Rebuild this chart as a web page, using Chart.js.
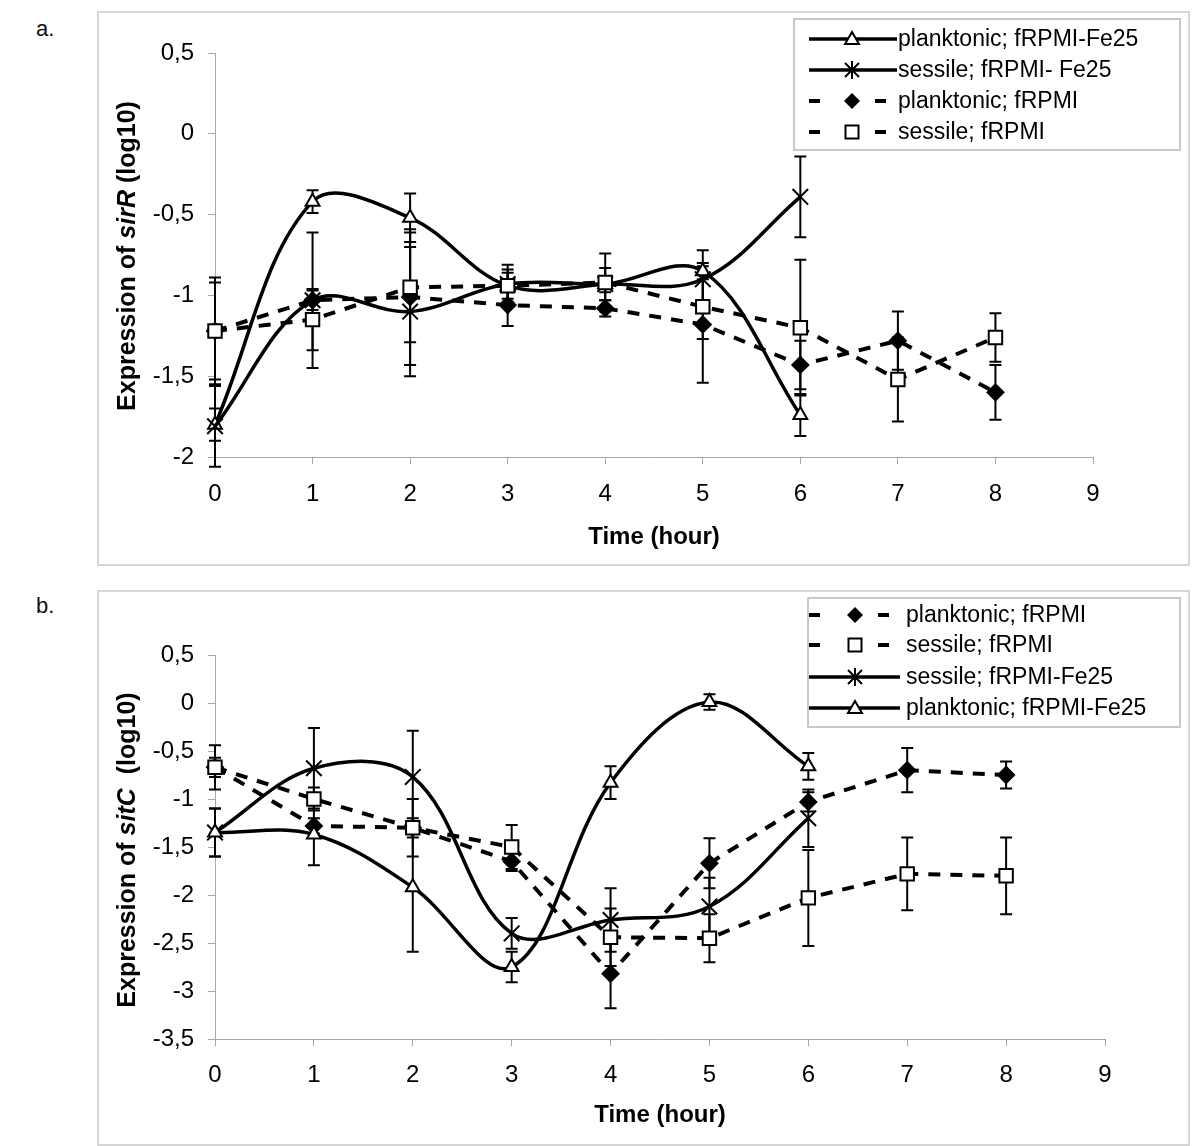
<!DOCTYPE html>
<html>
<head>
<meta charset="utf-8">
<script src="https://cdn.jsdelivr.net/npm/chart.js@4.4.0/dist/chart.umd.min.js"></script>
<style>
  html, body { margin: 0; padding: 0; background: #fff; }
  body { width: 1200px; height: 1146px; position: relative; overflow: hidden; font-family: "Liberation Sans", Arial, sans-serif; }
  .frame { position: absolute; border: 2px solid #d6d6d6; box-sizing: border-box; }
  .panel { position: absolute; }
  .tag { position: absolute; font-size: 22px; color: #111; }
</style>
</head>
<body>
<div class="tag" style="left:36px;top:16px">a.</div>
<div class="frame" style="left:97px;top:11px;width:1093px;height:555px"></div>
<div class="panel" style="left:98px;top:12px;width:1091px;height:553px"><canvas id="chartA"></canvas></div>

<div class="tag" style="left:36px;top:593px">b.</div>
<div class="frame" style="left:97px;top:590px;width:1093px;height:556px"></div>
<div class="panel" style="left:98px;top:591px;width:1091px;height:554px"><canvas id="chartB"></canvas></div>

<script>
// time points (hours)
const hours = [0, 1, 2, 3, 4, 5, 6, 7, 8];

// panel a: sirR expression (log10) and error bars
const sirR_plankFe = [-1.80, -0.42, -0.52, -0.94, -0.93, -0.85, -1.74];
const sirR_plankFe_err = [0.10, 0.07, 0.15, 0.08, 0.05, 0.05, 0.13];
const sirR_sessFe = [-1.81, -1.03, -1.10, -0.93, -0.93, -0.90, -0.39];
const sirR_sessFe_err = [0.25, 0.42, 0.40, 0.12, 0.10, 0.18, 0.25];
const sirR_plank = [-1.22, -1.03, -1.01, -1.06, -1.08, -1.18, -1.43, -1.28, -1.60];
const sirR_plank_err = [0.30, 0.06, 0.42, 0.13, 0.05, 0.36, 0.15, 0.18, 0.17];
const sirR_sess = [-1.22, -1.15, -0.95, -0.94, -0.92, -1.07, -1.20, -1.52, -1.26];
const sirR_sess_err = [0.33, 0.19, 0.34, 0.10, 0.18, 0.20, 0.42, 0.26, 0.15];

// panel b: sitC expression (log10) and error bars
const sitC_plank = [-0.67, -1.28, -1.30, -1.65, -2.82, -1.67, -1.03, -0.70, -0.75];
const sitC_plank_err = [0.10, 0.08, 0.10, 0.10, 0.36, 0.26, 0.10, 0.23, 0.14];
const sitC_sess = [-0.67, -1.00, -1.30, -1.50, -2.44, -2.45, -2.03, -1.78, -1.80];
const sitC_sess_err = [0.23, 0.12, 0.30, 0.23, 0.30, 0.25, 0.50, 0.38, 0.40];
const sitC_sessFe = [-1.35, -0.68, -0.77, -2.40, -2.26, -2.12, -1.20];
const sitC_sessFe_err = [0.25, 0.42, 0.48, 0.16, 0.33, 0.30, 0.30];
const sitC_plankFe = [-1.35, -1.37, -1.92, -2.75, -0.83, 0.01, -0.66];
const sitC_plankFe_err = [0.25, 0.32, 0.67, 0.16, 0.17, 0.08, 0.14];

const FONT = '"Liberation Sans", Arial, sans-serif';

function series(label, values, errs, kind, idx) {
  const solid = kind === 'triangle' || kind === 'cross';
  const styles = {
    triangle: { pointStyle: 'triangle', radius: 8, fill: '#fff' },
    cross: { pointStyle: 'crossRot', radius: 11, fill: '#000' },
    diamond: { pointStyle: 'rectRot', radius: 8, fill: '#000' },
    square: { pointStyle: 'rect', radius: 9.5, fill: '#fff' }
  }[kind];
  return {
    label: label,
    kind: kind,
    order: -idx, // later series on top, like the original
    data: values.map((v, i) => ({ x: hours[i], y: v })),
    errors: errs,
    borderColor: '#000',
    borderWidth: solid ? 3.5 : 4,
    borderDash: solid ? [] : [12, 10],
    tension: solid ? 0.36 : 0,
    fill: false,
    clip: false,
    pointStyle: styles.pointStyle,
    pointRadius: styles.radius,
    pointBackgroundColor: styles.fill,
    pointBorderColor: '#000',
    pointBorderWidth: 2
  };
}

// error bars drawn under the lines
const errorBars = {
  id: 'errorBars',
  beforeDatasetsDraw(chart) {
    const { ctx, scales: { x, y } } = chart;
    ctx.save();
    ctx.strokeStyle = '#000';
    ctx.lineWidth = 2;
    chart.data.datasets.forEach(ds => {
      ds.data.forEach((pt, i) => {
        const e = ds.errors[i];
        const px = x.getPixelForValue(pt.x);
        const top = y.getPixelForValue(pt.y + e);
        const bot = y.getPixelForValue(pt.y - e);
        ctx.beginPath();
        ctx.moveTo(px, top); ctx.lineTo(px, bot);
        ctx.moveTo(px - 6, top); ctx.lineTo(px + 6, top);
        ctx.moveTo(px - 6, bot); ctx.lineTo(px + 6, bot);
        ctx.stroke();
      });
    });
    ctx.restore();
  }
};

function legendMarker(ctx, kind, x, y) {
  ctx.save();
  ctx.lineWidth = 2;
  ctx.strokeStyle = '#000';
  ctx.beginPath();
  if (kind === 'triangle') {
    ctx.moveTo(x, y - 7); ctx.lineTo(x + 7, y + 5); ctx.lineTo(x - 7, y + 5); ctx.closePath();
    ctx.fillStyle = '#fff'; ctx.fill(); ctx.stroke();
  } else if (kind === 'cross') {
    ctx.moveTo(x - 7, y - 7); ctx.lineTo(x + 7, y + 7);
    ctx.moveTo(x + 7, y - 7); ctx.lineTo(x - 7, y + 7);
    ctx.moveTo(x, y - 9); ctx.lineTo(x, y + 9);
    ctx.stroke();
  } else if (kind === 'diamond') {
    ctx.moveTo(x, y - 8); ctx.lineTo(x + 8, y); ctx.lineTo(x, y + 8); ctx.lineTo(x - 8, y); ctx.closePath();
    ctx.fillStyle = '#000'; ctx.fill();
  } else {
    ctx.rect(x - 6.5, y - 6.5, 13, 13);
    ctx.fillStyle = '#fff'; ctx.fill(); ctx.stroke();
  }
  ctx.restore();
}

// titles and legend box
const decorations = {
  id: 'decorations',
  afterDraw(chart, args, opts) {
    const { ctx, chartArea } = chart;
    ctx.save();
    ctx.fillStyle = '#000';

    // y title with mixed styles, rotated
    ctx.translate(opts.yTitleX, opts.yTitleY);
    ctx.rotate(-Math.PI / 2);
    ctx.textBaseline = 'middle';
    let total = 0;
    opts.yTitle.forEach(s => { ctx.font = s[1] + ' 25px ' + FONT; total += ctx.measureText(s[0]).width; });
    let cx = -total / 2;
    opts.yTitle.forEach(s => {
      ctx.font = s[1] + ' 25px ' + FONT;
      ctx.textAlign = 'left';
      ctx.fillText(s[0], cx, 0);
      cx += ctx.measureText(s[0]).width;
    });
    ctx.setTransform(1, 0, 0, 1, 0, 0);

    // x title
    ctx.font = 'bold 24px ' + FONT;
    ctx.textAlign = 'center';
    ctx.textBaseline = 'middle';
    ctx.fillText('Time (hour)', (chartArea.left + chartArea.right) / 2, chartArea.bottom + opts.xTitleGap);

    // legend
    const L = opts.legend;
    ctx.fillStyle = '#fff';
    ctx.fillRect(L.x, L.y, L.w, L.h);
    ctx.strokeStyle = '#c8c8c8';
    ctx.lineWidth = 2;
    ctx.strokeRect(L.x, L.y, L.w, L.h);
    chart.data.datasets.forEach((ds, i) => {
      const ry = L.rowY[i];
      const solid = ds.kind === 'triangle' || ds.kind === 'cross';
      ctx.strokeStyle = '#000';
      ctx.beginPath();
      if (solid) {
        ctx.lineWidth = 3.5;
        ctx.moveTo(L.sampleX, ry); ctx.lineTo(L.sampleX + L.sampleW, ry);
      } else {
        ctx.lineWidth = 4;
        ctx.moveTo(L.sampleX, ry); ctx.lineTo(L.sampleX + 11, ry);
        ctx.moveTo(L.sampleX + L.sampleW - 22, ry); ctx.lineTo(L.sampleX + L.sampleW - 11, ry);
      }
      ctx.stroke();
      legendMarker(ctx, ds.kind, L.markerX, ry);
      ctx.fillStyle = '#000';
      ctx.font = '23px ' + FONT;
      ctx.textAlign = 'left';
      ctx.textBaseline = 'middle';
      ctx.fillText(ds.label, L.textX, ry + 1);
    });
    ctx.restore();
  }
};

function buildOptions(cfg) {
  return {
    responsive: true,
    maintainAspectRatio: false,
    animation: false,
    layout: { padding: { left: 0, top: cfg.top, right: cfg.right, bottom: 0 } },
    plugins: {
      legend: { display: false },
      tooltip: { enabled: false },
      decorations: cfg.deco
    },
    scales: {
      x: {
        type: 'linear',
        min: 0, max: 9,
        afterFit: s => { s.height = cfg.xHeight; },
        ticks: { stepSize: 1, color: '#000', font: { family: FONT, size: 24 }, padding: cfg.xPad },
        grid: { drawOnChartArea: false, drawTicks: true, tickLength: 7, color: '#a8a8a8' },
        border: { color: '#a8a8a8', width: 1 }
      },
      y: {
        min: cfg.yMin, max: 0.5,
        afterFit: s => { s.width = 117; },
        ticks: {
          stepSize: 0.5, color: '#000', font: { family: FONT, size: 24 }, padding: 14,
          callback: v => String(v).replace('.', ',')
        },
        grid: { drawOnChartArea: false, drawTicks: true, tickLength: 7, color: '#a8a8a8' },
        border: { color: '#a8a8a8', width: 1 }
      }
    }
  };
}

new Chart(document.getElementById('chartA'), {
  type: 'line',
  data: {
    datasets: [
      series('planktonic; fRPMI-Fe25', sirR_plankFe, sirR_plankFe_err, 'triangle', 0),
      series('sessile; fRPMI- Fe25', sirR_sessFe, sirR_sessFe_err, 'cross', 1),
      series('planktonic; fRPMI', sirR_plank, sirR_plank_err, 'diamond', 2),
      series('sessile; fRPMI', sirR_sess, sirR_sess_err, 'square', 3)
    ]
  },
  options: buildOptions({
    top: 41, right: 96, xHeight: 108, xPad: 16, yMin: -2,
    deco: {
      yTitle: [['Expression of ', 'bold'], ['sirR', 'italic bold'], [' (log10)', 'bold']],
      yTitleX: 30, yTitleY: 244, xTitleGap: 80,
      legend: { x: 696, y: 7, w: 386, h: 131, rowY: [27, 58, 89, 120], sampleX: 711, sampleW: 88, markerX: 754, textX: 800 }
    }
  }),
  plugins: [errorBars, decorations]
});

new Chart(document.getElementById('chartB'), {
  type: 'line',
  data: {
    datasets: [
      series('planktonic; fRPMI', sitC_plank, sitC_plank_err, 'diamond', 0),
      series('sessile; fRPMI', sitC_sess, sitC_sess_err, 'square', 1),
      series('sessile; fRPMI-Fe25', sitC_sessFe, sitC_sessFe_err, 'cross', 2),
      series('planktonic; fRPMI-Fe25', sitC_plankFe, sitC_plankFe_err, 'triangle', 3)
    ]
  },
  options: buildOptions({
    top: 64, right: 84, xHeight: 106, xPad: 15, yMin: -3.5,
    deco: {
      yTitle: [['Expression of ', 'bold'], ['sitC', 'italic bold'], ['  (log10)', 'bold']],
      yTitleX: 30, yTitleY: 259, xTitleGap: 76,
      legend: { x: 710, y: 7, w: 372, h: 129, rowY: [24, 54, 86, 117], sampleX: 711, sampleW: 91, markerX: 757, textX: 808 }
    }
  }),
  plugins: [errorBars, decorations]
});
</script>
</body>
</html>
